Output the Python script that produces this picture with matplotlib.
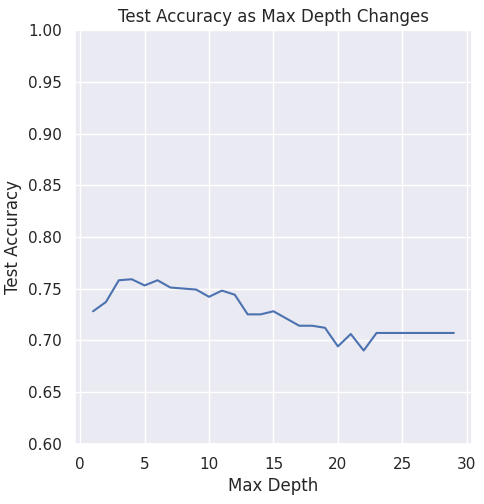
import matplotlib
matplotlib.use("Agg")
import matplotlib.pyplot as plt
import seaborn as sns

sns.set_theme(style="darkgrid")

max_depth = list(range(1, 30))
test_accuracy = [0.728, 0.737, 0.758, 0.759, 0.753, 0.758, 0.751, 0.750, 0.749, 0.742,
                 0.748, 0.744, 0.725, 0.725, 0.728, 0.721, 0.714, 0.714, 0.712, 0.694,
                 0.706, 0.690, 0.707, 0.707, 0.707, 0.707, 0.707, 0.707, 0.707]

fig, ax = plt.subplots(figsize=(4.84, 5.04), dpi=100)
ax.plot(max_depth, test_accuracy)
ax.set_ylim(0.6, 1.0)
ax.set_xticks([0, 5, 10, 15, 20, 25, 30])
ax.set_title("Test Accuracy as Max Depth Changes")
ax.set_xlabel("Max Depth")
ax.set_ylabel("Test Accuracy")
fig.subplots_adjust(left=0.155, right=0.975, top=0.94, bottom=0.12)
fig.savefig("out.png")
